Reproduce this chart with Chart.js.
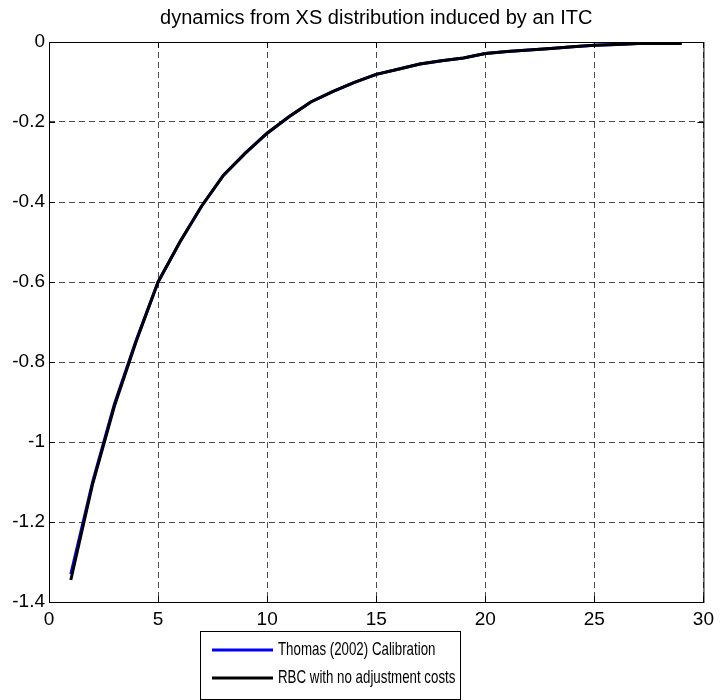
<!DOCTYPE html>
<html>
<head>
<meta charset="utf-8">
<script src="https://cdn.jsdelivr.net/npm/chart.js@4/dist/chart.umd.min.js"></script>
<style>
  html, body { margin: 0; padding: 0; background: #fff; }
  canvas { display: block; }
</style>
</head>
<body>
<canvas id="itcChart" width="720" height="700"></canvas>
<script>
// ====== data ======
const periods = [1, 2, 3, 4, 5, 6, 7, 8, 9, 10, 11, 12, 13, 14, 15, 16, 17, 18, 19, 20, 21, 22, 23, 24, 25, 26, 27, 28, 29];
const thomasCalib = [-1.33, -1.10, -0.905, -0.745, -0.60, -0.50, -0.41, -0.333, -0.278, -0.228, -0.187, -0.150, -0.124, -0.101, -0.081, -0.068, -0.055, -0.047, -0.040, -0.029, -0.024, -0.020, -0.016, -0.012, -0.008, -0.006, -0.004, -0.004, -0.004];
const rbcNoAdj = [-1.345, -1.105, -0.91, -0.748, -0.60, -0.50, -0.41, -0.333, -0.278, -0.228, -0.187, -0.150, -0.124, -0.101, -0.081, -0.068, -0.055, -0.047, -0.040, -0.029, -0.024, -0.020, -0.016, -0.012, -0.008, -0.006, -0.004, -0.004, -0.004];
const seriesNames = ["Thomas (2002) Calibration", "RBC with no adjustment costs"];
const xTicks = [0, 5, 10, 15, 20, 25, 30];
const yTicks = [0, -0.2, -0.4, -0.6, -0.8, -1, -1.2, -1.4];

const FONT = '"Liberation Sans", Arial, sans-serif';
Chart.defaults.font.family = FONT;
Chart.defaults.font.size = 19;
Chart.defaults.color = "#000";

const toPoints = (vals) => vals.map((v, i) => ({ x: periods[i], y: v }));

// box around the axes + inward tick marks + matlab style legend
const matlabFrame = {
  id: "matlabFrame",
  afterDatasetsDraw(chart) {
    const { ctx, chartArea: a, scales } = chart;
    ctx.save();
    ctx.strokeStyle = "#000";
    ctx.lineWidth = 1;
    ctx.setLineDash([]);
    ctx.strokeRect(a.left + 0.5, a.top + 0.5, a.right - a.left, a.bottom - a.top);
    ctx.beginPath();
    xTicks.forEach(t => {
      const x = Math.round(scales.x.getPixelForValue(t)) + 0.5;
      ctx.moveTo(x, a.bottom); ctx.lineTo(x, a.bottom - 6);
      ctx.moveTo(x, a.top); ctx.lineTo(x, a.top + 6);
    });
    yTicks.forEach(t => {
      const y = Math.round(scales.y.getPixelForValue(t)) + 0.5;
      ctx.moveTo(a.left, y); ctx.lineTo(a.left + 6, y);
      ctx.moveTo(a.right, y); ctx.lineTo(a.right - 6, y);
    });
    ctx.stroke();
    ctx.restore();
  },
  afterDraw(chart) {
    const { ctx } = chart;
    const bx = 200, by = 631, bw = 260, bh = 68;
    ctx.save();
    ctx.fillStyle = "#fff";
    ctx.fillRect(bx, by, bw, bh);
    ctx.strokeStyle = "#000";
    ctx.lineWidth = 1;
    ctx.strokeRect(bx + 0.5, by + 0.5, bw, bh);
    ctx.font = "19px " + FONT;
    ctx.textBaseline = "middle";
    chart.data.datasets.forEach((ds, i) => {
      const y = by + 19 + i * 28;
      ctx.strokeStyle = ds.borderColor;
      ctx.lineWidth = 3;
      ctx.beginPath();
      ctx.moveTo(bx + 12, y);
      ctx.lineTo(bx + 73, y);
      ctx.stroke();
      // the legend text in the original is narrow, squeeze it
      ctx.save();
      ctx.translate(bx + 78, y);
      ctx.scale(0.7, 1);
      ctx.fillStyle = "#000";
      ctx.fillText(ds.label, 0, 0);
      ctx.restore();
    });
    ctx.restore();
  }
};

const ctx = document.getElementById("itcChart").getContext("2d");
new Chart(ctx, {
  type: "line",
  data: {
    datasets: [
      {
        label: seriesNames[0],
        data: toPoints(thomasCalib),
        borderColor: "#0000ff",
        borderWidth: 3,
        pointRadius: 0,
        tension: 0,
        order: 1
      },
      {
        label: seriesNames[1],
        data: toPoints(rbcNoAdj),
        borderColor: "#000000",
        borderWidth: 3,
        pointRadius: 0,
        tension: 0,
        order: 0
      }
    ]
  },
  options: {
    responsive: false,
    animation: false,
    layout: { padding: { left: 0, right: 15, top: 0, bottom: 70 } },
    plugins: {
      legend: { display: false },
      tooltip: { enabled: false },
      title: {
        display: true,
        text: "dynamics from XS distribution induced by an ITC",
        fullSize: false,
        font: { size: 20, weight: "normal" },
        color: "#000",
        padding: { top: 6, bottom: 12 }
      }
    },
    scales: {
      x: {
        type: "linear",
        min: 0,
        max: 30,
        afterBuildTicks: (s) => { s.ticks = xTicks.map(v => ({ value: v })); },
        afterFit: (s) => { s.height = 28; },
        ticks: { padding: 6, maxRotation: 0 },
        grid: { color: "rgba(0,0,0,0.7)", lineWidth: 1, drawTicks: false },
        border: { display: false, dash: [6, 4] }
      },
      y: {
        type: "linear",
        min: -1.4,
        max: 0,
        afterBuildTicks: (s) => { s.ticks = yTicks.map(v => ({ value: v })); },
        afterFit: (s) => { s.width = 49; },
        ticks: { padding: 4, callback: (v) => String(Math.round(v * 10) / 10) },
        grid: { color: "rgba(0,0,0,0.7)", lineWidth: 1, drawTicks: false },
        border: { display: false, dash: [6, 4] }
      }
    }
  },
  plugins: [matlabFrame]
});
</script>
</body>
</html>
